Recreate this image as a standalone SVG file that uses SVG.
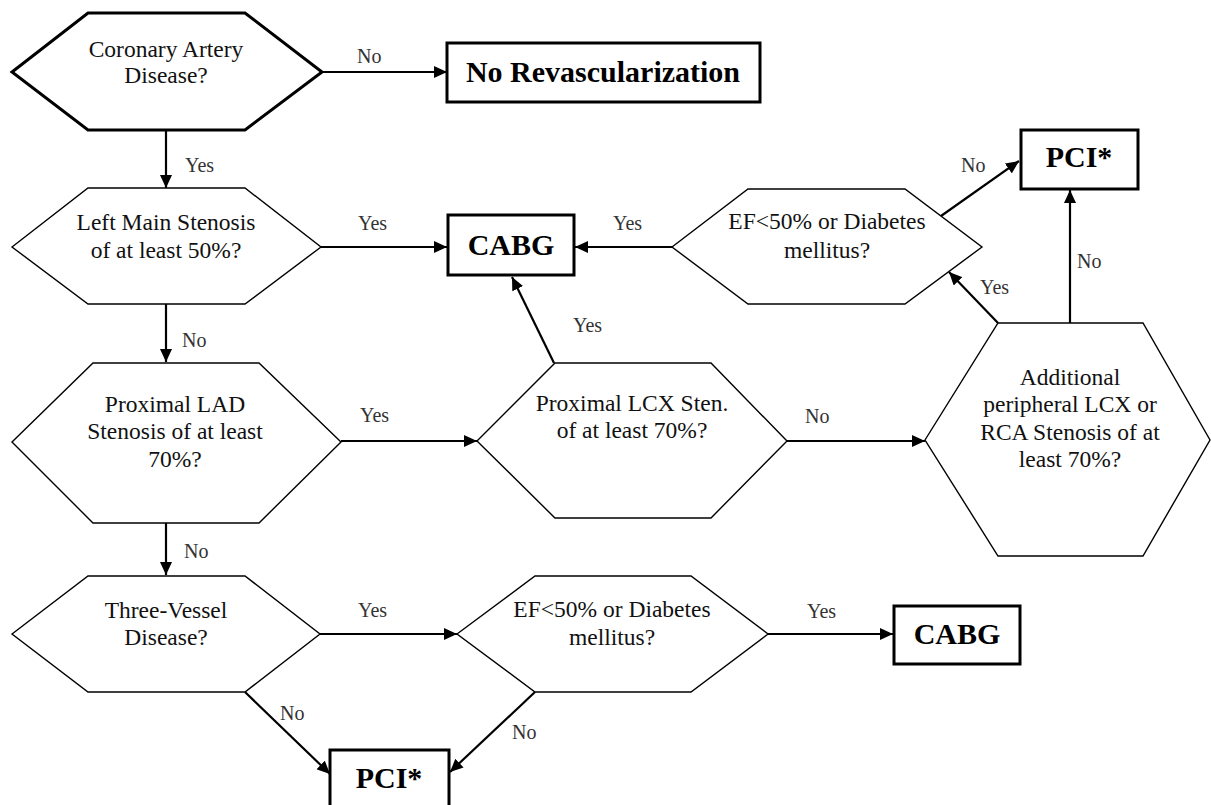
<svg xmlns="http://www.w3.org/2000/svg" width="1211" height="805" viewBox="0 0 1211 805">
<defs>
<marker id="ah" markerUnits="userSpaceOnUse" markerWidth="14" markerHeight="12" refX="13" refY="6" orient="auto">
<path d="M0,0 L13,6 L0,12 Z" fill="#000"/>
</marker>
<style>
.hex{fill:#fff;stroke:#000;stroke-width:1.4;stroke-linejoin:miter}
.hexb{fill:#fff;stroke:#000;stroke-width:3;stroke-linejoin:miter}
.box{fill:#fff;stroke:#000;stroke-width:3}
.q{font-family:"Liberation Serif","Times New Roman",serif;font-size:23.5px;fill:#111;text-anchor:middle}
.b{font-family:"Liberation Serif","Times New Roman",serif;font-size:30px;font-weight:bold;fill:#000;text-anchor:middle}
.lbl{font-family:"Liberation Serif","Times New Roman",serif;font-size:20px;fill:#333}
.c{fill:none;stroke:#000;stroke-width:2.2;marker-end:url(#ah)}
</style>
</defs>
<rect width="1211" height="805" fill="#fff"/>
<g id="connectors">
<line class="c" x1="322" y1="72" x2="447" y2="72"/>
<line class="c" x1="166" y1="130" x2="166" y2="188"/>
<line class="c" x1="321" y1="247" x2="447" y2="247"/>
<line class="c" x1="672" y1="247" x2="575" y2="247"/>
<line class="c" x1="554" y1="363" x2="512" y2="277"/>
<line class="c" x1="941" y1="216" x2="1019" y2="161"/>
<line class="c" x1="998" y1="323" x2="949" y2="272"/>
<line class="c" x1="1070" y1="323" x2="1070" y2="190"/>
<line class="c" x1="166" y1="304" x2="166" y2="362"/>
<line class="c" x1="341" y1="441" x2="477" y2="441"/>
<line class="c" x1="787" y1="441" x2="925" y2="441"/>
<line class="c" x1="166" y1="523" x2="166" y2="575"/>
<line class="c" x1="320" y1="634" x2="457" y2="634"/>
<line class="c" x1="768" y1="634" x2="893" y2="634"/>
<line class="c" x1="245" y1="692" x2="330" y2="774"/>
<line class="c" x1="535" y1="692" x2="450" y2="772"/>
<text class="lbl" x="357" y="63">No</text>
<text class="lbl" x="185" y="172">Yes</text>
<text class="lbl" x="358" y="230">Yes</text>
<text class="lbl" x="613" y="230">Yes</text>
<text class="lbl" x="573" y="332">Yes</text>
<text class="lbl" x="961" y="172">No</text>
<text class="lbl" x="980" y="294">Yes</text>
<text class="lbl" x="1077" y="268">No</text>
<text class="lbl" x="182" y="347">No</text>
<text class="lbl" x="360" y="422">Yes</text>
<text class="lbl" x="805" y="423">No</text>
<text class="lbl" x="184" y="558">No</text>
<text class="lbl" x="358" y="617">Yes</text>
<text class="lbl" x="807" y="618">Yes</text>
<text class="lbl" x="280" y="720">No</text>
<text class="lbl" x="512" y="739">No</text>
</g>
<g id="cad">
<polygon class="hexb" points="12,72 88,13 245,13 322,72 245,130 88,130"/>
<text class="q" x="166" y="57">Coronary Artery</text>
<text class="q" x="166" y="83">Disease?</text>
</g>
<g id="norevasc">
<rect class="box" x="447" y="43" width="313" height="59"/>
<text class="b" x="603" y="82">No Revascularization</text>
</g>
<g id="leftmain">
<polygon class="hex" points="12,247 88,188 245,188 321,247 245,304 88,304"/>
<text class="q" x="166" y="230">Left Main Stenosis</text>
<text class="q" x="166" y="258">of at least 50%?</text>
</g>
<g id="cabg1">
<rect class="box" x="448" y="215" width="126" height="60"/>
<text class="b" x="511" y="255">CABG</text>
</g>
<g id="ef1">
<polygon class="hex" points="672,247 748,189 905,189 982,247 905,304 748,304"/>
<text class="q" x="827" y="229">EF&lt;50% or Diabetes</text>
<text class="q" x="827" y="258">mellitus?</text>
</g>
<g id="pci1">
<rect class="box" x="1021" y="130" width="117" height="59"/>
<text class="b" x="1079" y="167">PCI*</text>
</g>
<g id="lad">
<polygon class="hex" points="12,442 93,363 259,363 341,442 259,523 93,523"/>
<text class="q" x="175" y="412">Proximal LAD</text>
<text class="q" x="175" y="439">Stenosis of at least</text>
<text class="q" x="175" y="467">70%?</text>
</g>
<g id="lcx">
<polygon class="hex" points="477,441 555,363 711,363 787,441 711,518 555,518"/>
<text class="q" x="632" y="411">Proximal LCX Sten.</text>
<text class="q" x="632" y="438">of at least 70%?</text>
</g>
<g id="additional">
<polygon class="hex" points="925,440 998,323 1143,323 1210,440 1143,556 998,556"/>
<text class="q" x="1070" y="385">Additional</text>
<text class="q" x="1070" y="412">peripheral LCX or</text>
<text class="q" x="1070" y="440">RCA Stenosis of at</text>
<text class="q" x="1070" y="467">least 70%?</text>
</g>
<g id="threevessel">
<polygon class="hex" points="12,634 88,576 245,576 320,634 245,692 88,692"/>
<text class="q" x="166" y="618">Three-Vessel</text>
<text class="q" x="166" y="645">Disease?</text>
</g>
<g id="ef2">
<polygon class="hex" points="457,634 535,576 691,576 768,634 691,692 535,692"/>
<text class="q" x="612" y="617">EF&lt;50% or Diabetes</text>
<text class="q" x="612" y="645">mellitus?</text>
</g>
<g id="cabg2">
<rect class="box" x="894" y="606" width="126" height="58"/>
<text class="b" x="957" y="644">CABG</text>
</g>
<g id="pci2">
<rect class="box" x="330" y="750" width="119" height="60"/>
<text class="b" x="389" y="788">PCI*</text>
</g>
</svg>
